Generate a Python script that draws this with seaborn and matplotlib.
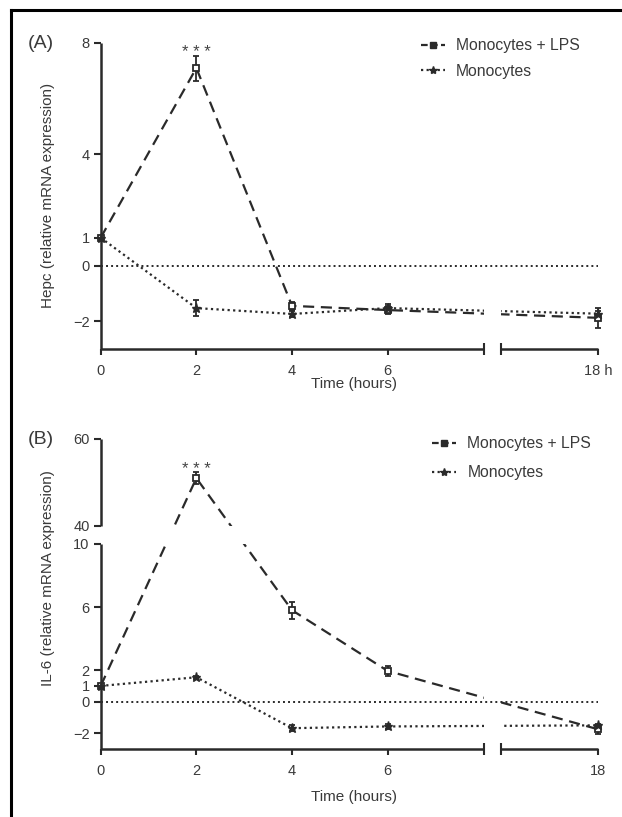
import numpy as np
import pandas as pd
import matplotlib
matplotlib.use("Agg")
import matplotlib.pyplot as plt
import seaborn as sns
from matplotlib.path import Path
from matplotlib.lines import Line2D

# ---------------- data ----------------
hours = [0, 2, 4, 6, 18]
series_names = ["Monocytes + LPS", "Monocytes"]

hepc_lps = [1.0, 7.1, -1.45, -1.6, -1.88]
hepc_lps_err = [0.0, 0.45, 0.15, 0.15, 0.35]
hepc_mono = [1.0, -1.53, -1.74, -1.53, -1.73]
hepc_mono_err = [0.0, 0.3, 0.1, 0.15, 0.1]

il6_lps = [1.0, 51.0, 5.8, 1.95, -1.75]
il6_lps_err = [0.0, 1.3, 0.55, 0.3, 0.3]
il6_mono = [1.0, 1.55, -1.68, -1.57, -1.5]
il6_mono_err = [0.0, 0.1, 0.2, 0.15, 0.1]

hepc_yticks = [8, 4, 1, 0, -2]
hepc_yticklabels = ["8", "4", "1", "0", "\u22122"]
il6_yticks = [60, 40, 10, 6, 2, 1, 0, -2]
il6_yticklabels = ["60", "40", "10", "6", "2", "1", "0", "\u22122"]
hepc_xticklabels = ["0", "2", "4", "6", "18 h"]
il6_xticklabels = ["0", "2", "4", "6", "18"]

# ---------------- style ----------------
sns.set_style("ticks")
plt.rcParams["font.family"] = ["Liberation Sans", "DejaVu Sans"]
INK = "#2a2a2a"
TXT = "#3a3a3a"
FS = 11
TFS = 10.5

# x scale: 0-6 h linear, then 6-18 h compressed
PX_PER_H = 47.83
KX = 4.40 / 12.0
def xf(t):
    t = np.asarray(t, dtype=float)
    return np.where(t <= 6, t, 6 + (t - 6) * KX)
def xi(p):
    p = np.asarray(p, dtype=float)
    return np.where(p <= 6, p, 6 + (p - 6) / KX)

XB_LO = float(xi(8.01))
XB_HI = float(xi(8.36))

# y scale for IL-6: broken between 10 and 40
GAP_U = 18 / 15.77
K_HI = 4.35 / 15.77
def yf(v):
    v = np.asarray(v, dtype=float)
    return np.where(v <= 10, v,
                    np.where(v >= 40, 10 + GAP_U + (v - 40) * K_HI,
                             10 + (v - 10) * GAP_U / 30))
def yi(u):
    u = np.asarray(u, dtype=float)
    return np.where(u <= 10, u,
                    np.where(u >= 10 + GAP_U, 40 + (u - 10 - GAP_U) / K_HI,
                             10 + (u - 10) * 30 / GAP_U))

W, H = 622, 817
AX_L = 100.7
AX_W = 10.40 * PX_PER_H
fig = plt.figure(figsize=(6.22, 8.17), dpi=100)
axA = fig.add_axes([AX_L / W, 1 - 349 / H, AX_W / W, 306 / H])
axB = fig.add_axes([AX_L / W, 1 - 749 / H, AX_W / W, 310 / H])


def rect_path(rects):
    verts, codes = [], []
    for (x0, y0, x1, y1) in rects:
        verts += [(x0, y0), (x1, y0), (x1, y1), (x0, y1), (x0, y0)]
        codes += [Path.MOVETO, Path.LINETO, Path.LINETO, Path.LINETO, Path.CLOSEPOLY]
    return Path(verts, codes)


def panel(ax, lps, lps_err, mono, mono_err, ylim, yticks, yticklabels,
          xticklabels, ybreak=None):
    ax.set_xscale("function", functions=(xf, xi))
    if ybreak is not None:
        ax.set_yscale("function", functions=(yf, yi))

    # clip region for connecting lines (gaps at the axis breaks)
    if ybreak is None:
        ybands = [(-50, 200)]
    else:
        ybands = [(-50, ybreak[0]), (ybreak[1], 200)]
    rects = []
    for (ya, yb) in ybands:
        rects.append((-5, ya, XB_LO, yb))
        rects.append((XB_HI, ya, 30, yb))
    clip = rect_path(rects)

    # zero reference line
    ax.plot([0, 18], [0, 0], color=INK, lw=1.4, ls=(0, (1, 1.6)),
            clip_on=False, zorder=1)

    df = pd.DataFrame({
        "hours": hours * 2,
        "value": list(lps) + list(mono),
        "series": [series_names[0]] * 5 + [series_names[1]] * 5,
    })
    styles = {series_names[0]: (0, (5, 3)), series_names[1]: (0, (1, 1.5))}
    for name in series_names:
        sub = df[df["series"] == name]
        n_before = len(ax.lines)
        sns.lineplot(data=sub, x="hours", y="value", ax=ax, color=INK,
                     lw=1.6, estimator=None, sort=False, legend=False)
        line = ax.lines[n_before]
        line.set_linestyle(styles[name])
        line.set_clip_path(clip, ax.transData)

    ax.errorbar(hours, lps, yerr=lps_err, fmt="none", ecolor=INK,
                elinewidth=1.3, capsize=2.5, capthick=1.3, clip_on=False, zorder=3)
    ax.errorbar(hours, mono, yerr=mono_err, fmt="none", ecolor=INK,
                elinewidth=1.3, capsize=2.5, capthick=1.3, clip_on=False, zorder=3)
    ax.plot(hours, lps, ls="none", marker="s", ms=4.3, mfc="white", mec=INK,
            mew=1.3, clip_on=False, zorder=4)
    ax.plot(hours, mono, ls="none", marker="*", ms=6.5, color=INK, clip_on=False, zorder=5)

    ax.annotate("* * *", xy=(2, lps[1] + lps_err[1]), xytext=(0, -1),
                textcoords="offset points", ha="center", va="baseline",
                fontsize=12, color="#444444")

    ax.set_xlim(0, 18)
    ax.set_ylim(*ylim)
    ax.set_xticks(hours)
    ax.set_xticklabels(xticklabels)
    ax.set_yticks(yticks)
    ax.set_yticklabels(yticklabels)
    ax.tick_params(axis="both", labelsize=TFS, labelcolor=TXT, color=INK, width=1.5)
    ax.tick_params(axis="y", direction="out", length=5, pad=3)
    ax.tick_params(axis="x", direction="out", length=4.5, pad=6)
    ax.set_xlabel("")
    ax.set_ylabel("")
    ax.minorticks_off()
    ax.set_facecolor("none")

    for s in ["top", "right", "bottom", "left"]:
        ax.spines[s].set_visible(False)
    # y spine (possibly broken)
    yt = ax.get_yaxis_transform()
    if ybreak is None:
        ax.plot([0, 0], [ylim[0], ylim[1]], color=INK, lw=1.8, transform=yt,
                clip_on=False, solid_capstyle="butt")
    else:
        ax.plot([0, 0], [ylim[0], ybreak[0]], color=INK, lw=1.8, transform=yt,
                clip_on=False, solid_capstyle="butt")
        ax.plot([0, 0], [ybreak[1], ylim[1]], color=INK, lw=1.8, transform=yt,
                clip_on=False, solid_capstyle="butt")
    # x spine, broken
    xt = ax.get_xaxis_transform()
    ax.plot([0, XB_LO], [0, 0], color=INK, lw=1.8, transform=xt, clip_on=False,
            solid_capstyle="butt", marker="|", ms=9, mew=1.5, markevery=[1])
    ax.plot([XB_HI, 18], [0, 0], color=INK, lw=1.8, transform=xt, clip_on=False,
            solid_capstyle="butt", marker="|", ms=9, mew=1.5, markevery=[0])


panel(axA, hepc_lps, hepc_lps_err, hepc_mono, hepc_mono_err, (-3, 8),
      hepc_yticks, hepc_yticklabels, hepc_xticklabels)
panel(axB, il6_lps, il6_lps_err, il6_mono, il6_mono_err, (-3, 60),
      il6_yticks, il6_yticklabels, il6_xticklabels, ybreak=(10, 40))

# legends
def make_legend(anchor, spacing, hlen):
    handles = [
        Line2D([], [], color=INK, lw=1.6, ls=(0, (3, 1.5)), marker="s", ms=4, mfc=INK),
        Line2D([], [], color=INK, lw=1.6, ls=(0, (1, 1.5)), marker="*", ms=6),
    ]
    leg = fig.legend(handles, series_names, loc="upper left",
                     bbox_to_anchor=anchor, bbox_transform=fig.transFigure,
                     frameon=False, fontsize=11.3, labelcolor=TXT,
                     handlelength=hlen, handletextpad=0.7, borderpad=0,
                     borderaxespad=0, labelspacing=spacing)
    return leg

make_legend((421 / W, 1 - 38 / H), 0.7, 1.5)
make_legend((432 / W, 1 - 436 / H), 0.92, 1.55)

# labels
fig.text(28 / W, 1 - 43 / H, "(A)", fontsize=14, color=TXT, ha="left", va="center")
fig.text(28 / W, 1 - 440 / H, "(B)", fontsize=14, color=TXT, ha="left", va="center")
fig.text(48 / W, 1 - 195 / H, "Hepc (relative mRNA expression)", rotation=90,
         fontsize=FS, color=TXT, ha="center", va="center")
fig.text(48 / W, 1 - 578 / H, "IL-6 (relative mRNA expression)", rotation=90,
         fontsize=FS, color=TXT, ha="center", va="center")
fig.text(354 / W, 1 - 384 / H, "Time (hours)", fontsize=FS, color=TXT,
         ha="center", va="center")
fig.text(354 / W, 1 - 797 / H, "Time (hours)", fontsize=FS, color=TXT,
         ha="center", va="center")

# outer frame (left and top rules)
fx = 11 / W
fy = 1 - 10 / H
fig.add_artist(Line2D([fx, fx], [0, fy], transform=fig.transFigure, color="black",
                      lw=2.2, solid_capstyle="projecting"))
fig.add_artist(Line2D([fx, 1], [fy, fy], transform=fig.transFigure, color="black",
                      lw=2.2, solid_capstyle="projecting"))

fig.savefig("out.png", dpi=100, facecolor="white")
